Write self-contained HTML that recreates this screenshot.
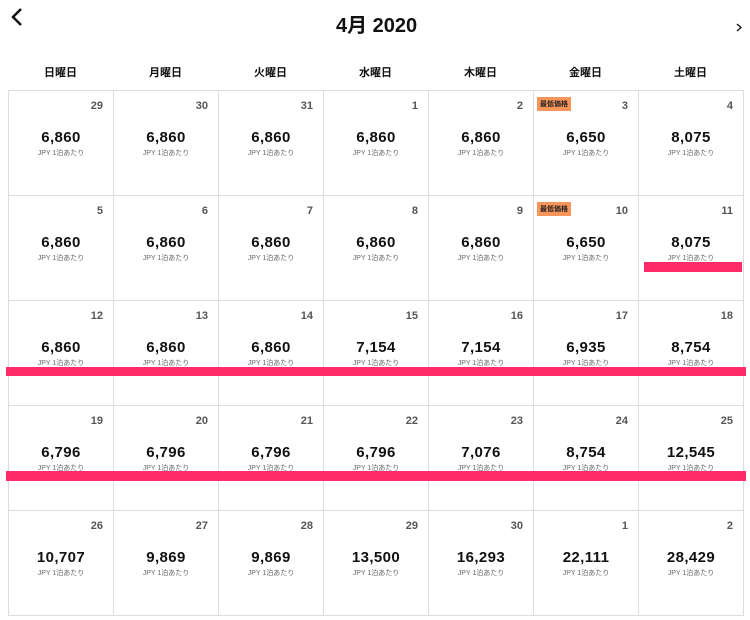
<!DOCTYPE html>
<html><head><meta charset="utf-8"><style>
body{margin:0;width:750px;height:620px;background:#fff;font-family:"Liberation Sans","Noto Sans CJK JP",sans-serif;position:relative;overflow:hidden;color:#111}
.t{position:absolute;left:336px;top:9px;font-size:20px;font-weight:bold}
.wd{position:absolute;top:64px;width:105px;text-align:center;font-size:11px;font-weight:bold}
.g{position:absolute;left:8px;top:90px;display:grid;grid-template-columns:repeat(7,105px);grid-template-rows:repeat(5,105px);border-left:1px solid #ddd;border-top:1px solid #ddd}
.c{position:relative;border-right:1px solid #ddd;border-bottom:1px solid #ddd;box-sizing:border-box}
.d{position:absolute;right:10px;top:9px;font-size:11px;font-weight:bold;color:#555}
.p{position:absolute;left:0;right:0;top:38px;text-align:center;font-size:15px;font-weight:bold;letter-spacing:.4px}
.s{position:absolute;left:0;right:0;top:57px;text-align:center;font-size:7px;color:#666}
.b{position:absolute;left:3px;top:6px;background:#f8955a;font-size:7px;font-weight:bold;padding:2px 3px;color:#222}
.bar{position:absolute;background:#ff2a68}
</style></head><body>
<svg style="position:absolute;left:9px;top:7px" width="16" height="20"><path d="M12 2 L4 10 L12 18" stroke="#111" stroke-width="2.5" fill="none"/></svg>
<div class="t">4月 2020</div>
<svg style="position:absolute;left:736px;top:23px" width="6" height="9"><path d="M1 1 L5 4.5 L1 8" stroke="#111" stroke-width="1.4" fill="none"/></svg>
<div class="wd" style="left:8px">日曜日</div><div class="wd" style="left:113px">月曜日</div><div class="wd" style="left:218px">火曜日</div><div class="wd" style="left:323px">水曜日</div><div class="wd" style="left:428px">木曜日</div><div class="wd" style="left:533px">金曜日</div><div class="wd" style="left:638px">土曜日</div>
<div class="g">
<div class="c"><span class="d">29</span><div class="p">6,860</div><div class="s">JPY 1泊あたり</div></div>
<div class="c"><span class="d">30</span><div class="p">6,860</div><div class="s">JPY 1泊あたり</div></div>
<div class="c"><span class="d">31</span><div class="p">6,860</div><div class="s">JPY 1泊あたり</div></div>
<div class="c"><span class="d">1</span><div class="p">6,860</div><div class="s">JPY 1泊あたり</div></div>
<div class="c"><span class="d">2</span><div class="p">6,860</div><div class="s">JPY 1泊あたり</div></div>
<div class="c"><span class="b">最低価格</span><span class="d">3</span><div class="p">6,650</div><div class="s">JPY 1泊あたり</div></div>
<div class="c"><span class="d">4</span><div class="p">8,075</div><div class="s">JPY 1泊あたり</div></div>
<div class="c"><span class="d">5</span><div class="p">6,860</div><div class="s">JPY 1泊あたり</div></div>
<div class="c"><span class="d">6</span><div class="p">6,860</div><div class="s">JPY 1泊あたり</div></div>
<div class="c"><span class="d">7</span><div class="p">6,860</div><div class="s">JPY 1泊あたり</div></div>
<div class="c"><span class="d">8</span><div class="p">6,860</div><div class="s">JPY 1泊あたり</div></div>
<div class="c"><span class="d">9</span><div class="p">6,860</div><div class="s">JPY 1泊あたり</div></div>
<div class="c"><span class="b">最低価格</span><span class="d">10</span><div class="p">6,650</div><div class="s">JPY 1泊あたり</div></div>
<div class="c"><span class="d">11</span><div class="p">8,075</div><div class="s">JPY 1泊あたり</div></div>
<div class="c"><span class="d">12</span><div class="p">6,860</div><div class="s">JPY 1泊あたり</div></div>
<div class="c"><span class="d">13</span><div class="p">6,860</div><div class="s">JPY 1泊あたり</div></div>
<div class="c"><span class="d">14</span><div class="p">6,860</div><div class="s">JPY 1泊あたり</div></div>
<div class="c"><span class="d">15</span><div class="p">7,154</div><div class="s">JPY 1泊あたり</div></div>
<div class="c"><span class="d">16</span><div class="p">7,154</div><div class="s">JPY 1泊あたり</div></div>
<div class="c"><span class="d">17</span><div class="p">6,935</div><div class="s">JPY 1泊あたり</div></div>
<div class="c"><span class="d">18</span><div class="p">8,754</div><div class="s">JPY 1泊あたり</div></div>
<div class="c"><span class="d">19</span><div class="p">6,796</div><div class="s">JPY 1泊あたり</div></div>
<div class="c"><span class="d">20</span><div class="p">6,796</div><div class="s">JPY 1泊あたり</div></div>
<div class="c"><span class="d">21</span><div class="p">6,796</div><div class="s">JPY 1泊あたり</div></div>
<div class="c"><span class="d">22</span><div class="p">6,796</div><div class="s">JPY 1泊あたり</div></div>
<div class="c"><span class="d">23</span><div class="p">7,076</div><div class="s">JPY 1泊あたり</div></div>
<div class="c"><span class="d">24</span><div class="p">8,754</div><div class="s">JPY 1泊あたり</div></div>
<div class="c"><span class="d">25</span><div class="p">12,545</div><div class="s">JPY 1泊あたり</div></div>
<div class="c"><span class="d">26</span><div class="p">10,707</div><div class="s">JPY 1泊あたり</div></div>
<div class="c"><span class="d">27</span><div class="p">9,869</div><div class="s">JPY 1泊あたり</div></div>
<div class="c"><span class="d">28</span><div class="p">9,869</div><div class="s">JPY 1泊あたり</div></div>
<div class="c"><span class="d">29</span><div class="p">13,500</div><div class="s">JPY 1泊あたり</div></div>
<div class="c"><span class="d">30</span><div class="p">16,293</div><div class="s">JPY 1泊あたり</div></div>
<div class="c"><span class="d">1</span><div class="p">22,111</div><div class="s">JPY 1泊あたり</div></div>
<div class="c"><span class="d">2</span><div class="p">28,429</div><div class="s">JPY 1泊あたり</div></div>
</div>
<div class="bar" style="left:644px;top:262px;width:98px;height:10px"></div>
<div class="bar" style="left:6px;top:367px;width:740px;height:9px"></div>
<div class="bar" style="left:6px;top:471px;width:740px;height:10px"></div>
</body></html>
